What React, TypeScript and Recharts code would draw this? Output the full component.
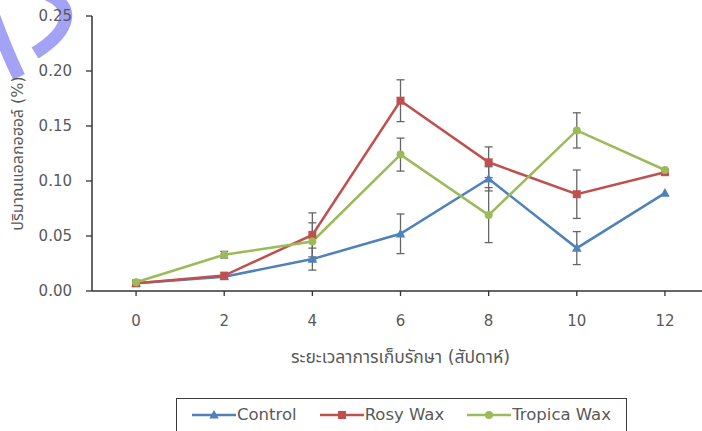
import { LineChart, Line, XAxis, YAxis, ErrorBar, Label } from 'recharts'

const weeks = [0, 2, 4, 6, 8, 10, 12]
const controlVals = [0.007, 0.013, 0.029, 0.052, 0.102, 0.039, 0.089]
const controlErr = [0, 0, 0.01, 0.018, 0.011, 0.015, 0]
const rosyVals = [0.007, 0.014, 0.051, 0.173, 0.117, 0.088, 0.108]
const rosyErr = [0, 0, 0.02, 0.019, 0.014, 0.022, 0]
const tropicaVals = [0.008, 0.033, 0.045, 0.124, 0.069, 0.146, 0.11]
const tropicaErr = [0, 0.003, 0.017, 0.015, 0.025, 0.016, 0]
const yTicks = [0, 0.05, 0.1, 0.15, 0.2, 0.25]

const BLUE = '#4f81bd'
const RED = '#c0504d'
const GREEN = '#9bbb59'
const GREY = '#595959'
const FONT = "'DejaVu Sans', 'Noto Sans Thai', sans-serif"

const data = weeks.map((w, i) => ({
  week: w,
  control: controlVals[i], controlErr: controlErr[i],
  rosy: rosyVals[i], rosyErr: rosyErr[i],
  tropica: tropicaVals[i], tropicaErr: tropicaErr[i],
}))

const triangle = (cx: number, cy: number, color: string, key?: string) => (
  <polygon key={key} points={`${cx},${cy - 5} ${cx + 4.8},${cy + 3.6} ${cx - 4.8},${cy + 3.6}`} fill={color} />
)
const square = (cx: number, cy: number, color: string, key?: string) => (
  <rect key={key} x={cx - 4} y={cy - 4} width={8} height={8} fill={color} />
)
const circle = (cx: number, cy: number, color: string, key?: string) => (
  <circle key={key} cx={cx} cy={cy} r={4} fill={color} />
)

const TriDot = (p: any) => triangle(p.cx, p.cy, BLUE, `t${p.index}`)
const SqDot = (p: any) => square(p.cx, p.cy, RED, `s${p.index}`)
const CircDot = (p: any) => circle(p.cx, p.cy, GREEN, `c${p.index}`)

const legendItems = [
  { name: 'Control', color: BLUE, marker: triangle },
  { name: 'Rosy Wax', color: RED, marker: square },
  { name: 'Tropica Wax', color: GREEN, marker: circle },
]

// blue logo fragment peeking in at the top-left corner
function Watermark() {
  return (
    <svg width={90} height={90} style={{ position: 'absolute', left: 0, top: 0 }}>
      <path d="M 47 -6 C 75 6, 72 30, 35 53" stroke="#a3a3f5" strokeWidth={13} fill="none" />
      <path d="M -6 17 Q 6 50 19 77" stroke="#a3a3f5" strokeWidth={13} fill="none" />
    </svg>
  )
}

export default function App() {
  return (
    <div style={{ position: 'absolute', left: 0, top: 0, width: 702, height: 431, overflow: 'hidden', background: '#fff', fontFamily: FONT }}>
      <Watermark />
      <LineChart width={710} height={431} data={data} margin={{ top: 16, right: 1, left: 0, bottom: 70 }}>
        <XAxis
          type="number" dataKey="week" domain={[-1, 13]} ticks={weeks}
          tick={{ fontSize: 15, fill: GREY, fontFamily: FONT }}
          tickSize={5} tickMargin={19} height={70}
          axisLine={{ stroke: '#333', strokeWidth: 1.5 }} tickLine={{ stroke: '#333', strokeWidth: 1.3 }}
        >
          <Label value="ระยะเวลาการเก็บรักษา (สัปดาห์)" position="insideBottom" offset={-2}
            style={{ fontSize: 17.5, fill: GREY, fontFamily: FONT }} />
        </XAxis>
        <YAxis
          type="number" domain={[0, 0.25]} ticks={yTicks} width={92}
          tickFormatter={(v: number) => v.toFixed(2)}
          tick={{ fontSize: 15, fill: GREY, fontFamily: FONT }}
          tickSize={6} tickMargin={14}
          axisLine={{ stroke: '#333', strokeWidth: 1.5 }} tickLine={{ stroke: '#333', strokeWidth: 1.3 }}
        >
          <Label value="ปริมาณแอลกอฮอล์ (%)" angle={-90} position="insideLeft" offset={17}
            style={{ fontSize: 16, fill: GREY, fontFamily: FONT, textAnchor: 'middle' }} />
        </YAxis>
        <Line dataKey="control" stroke={BLUE} strokeWidth={2.5} dot={TriDot} activeDot={false} isAnimationActive={false}>
          <ErrorBar dataKey="controlErr" direction="y" width={4} stroke="#666" strokeWidth={1.3} />
        </Line>
        <Line dataKey="rosy" stroke={RED} strokeWidth={2.5} dot={SqDot} activeDot={false} isAnimationActive={false}>
          <ErrorBar dataKey="rosyErr" direction="y" width={4} stroke="#666" strokeWidth={1.3} />
        </Line>
        <Line dataKey="tropica" stroke={GREEN} strokeWidth={2.5} dot={CircDot} activeDot={false} isAnimationActive={false}>
          <ErrorBar dataKey="tropicaErr" direction="y" width={4} stroke="#666" strokeWidth={1.3} />
        </Line>
      </LineChart>
      <div style={{
        position: 'absolute', left: 176, top: 398, width: 451, height: 40,
        border: '1.3px solid #3a3a3a', display: 'flex', justifyContent: 'center',
        alignItems: 'flex-start', paddingTop: 6, boxSizing: 'border-box', gap: 23,
      }}>
        {legendItems.map((it) => (
          <div key={it.name} style={{ display: 'flex', alignItems: 'center' }}>
            <svg width={44} height={12}>
              <line x1={0} y1={6} x2={44} y2={6} stroke={it.color} strokeWidth={2.5} />
              {it.marker(22, 6, it.color)}
            </svg>
            <span style={{ fontSize: 16.5, color: GREY, marginLeft: 1, lineHeight: '20px' }}>{it.name}</span>
          </div>
        ))}
      </div>
    </div>
  )
}
